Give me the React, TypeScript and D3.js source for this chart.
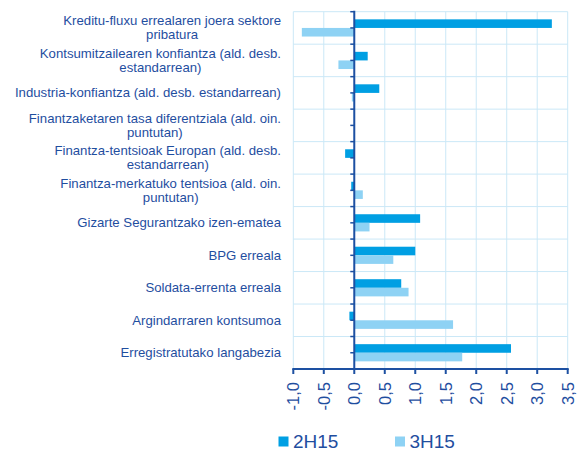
import React, { useEffect, useRef } from "react";
import * as d3 from "d3";

const categories: string[][] = [
  ["Kreditu-fluxu errealaren joera sektore", "pribatura"],
  ["Kontsumitzailearen konfiantza (ald. desb.", "estandarrean)"],
  ["Industria-konfiantza (ald. desb. estandarrean)"],
  ["Finantzaketaren tasa diferentziala (ald. oin.", "puntutan)"],
  ["Finantza-tentsioak Europan (ald. desb.", "estandarrean)"],
  ["Finantza-merkatuko tentsioa (ald. oin.", "puntutan)"],
  ["Gizarte Segurantzako izen-ematea"],
  ["BPG erreala"],
  ["Soldata-errenta erreala"],
  ["Argindarraren kontsumoa"],
  ["Erregistratutako langabezia"],
];

const seriesNames = ["2H15", "3H15"];
const values2H15 = [3.24, 0.22, 0.41, 0.0, -0.15, -0.05, 1.08, 1.0, 0.77, -0.08, 2.57];
const values3H15 = [-0.86, -0.26, -0.04, 0.0, 0.0, 0.14, 0.25, 0.64, 0.89, 1.62, 1.77];
const xTicks = [-1.0, -0.5, 0.0, 0.5, 1.0, 1.5, 2.0, 2.5, 3.0, 3.5];

const W = 577;
const H = 450;
const colors = ["#009fe3", "#8ed2f4"];
const textColor = "#1f4e9f";
const axisColor = "#1d50a2";
const gridColor = "#cbe8f7";
const FONT = "'Liberation Sans', Arial, sans-serif";

export default function App() {
  const ref = useRef<SVGSVGElement | null>(null);

  useEffect(() => {
    const svg = d3.select(ref.current);
    svg.selectAll("*").remove();

    const left = 293.3, right = 567.7, top = 11.7, bottom = 369;
    const x = d3.scaleLinear().domain([-1, 3.5]).range([left, right]);
    const idx = categories.map((_, i) => String(i));
    const y = d3.scaleBand().domain(idx).range([top, bottom]).paddingInner(0).paddingOuter(0);
    const ySub = d3.scaleBand().domain(seriesNames).range([0, y.bandwidth()]).paddingInner(0).paddingOuter(0.89);

    // grid
    const g = svg.append("g");
    g.selectAll("line.vg").data(xTicks).enter().append("line")
      .attr("x1", (d) => x(d)).attr("x2", (d) => x(d))
      .attr("y1", top).attr("y2", bottom)
      .attr("stroke", gridColor).attr("stroke-width", 1);
    const bounds = idx.map((d) => y(d) as number);
    g.selectAll("line.hg").data(bounds).enter().append("line")
      .attr("x1", left).attr("x2", right)
      .attr("y1", (d) => d).attr("y2", (d) => d)
      .attr("stroke", gridColor).attr("stroke-width", 1);

    // bars
    const seriesVals = [values2H15, values3H15];
    seriesNames.forEach((s, si) => {
      svg.append("g").selectAll("rect").data(seriesVals[si]).enter().append("rect")
        .attr("x", (d) => x(Math.min(0, d)))
        .attr("width", (d) => Math.abs(x(d) - x(0)))
        .attr("y", (_, i) => (y(String(i)) as number) + (ySub(s) as number))
        .attr("height", ySub.bandwidth())
        .attr("fill", colors[si]);
    });

    // zero axis
    const x0 = x(0);
    svg.append("line").attr("x1", x0).attr("x2", x0).attr("y1", top - 1).attr("y2", bottom)
      .attr("stroke", axisColor).attr("stroke-width", 2);
    const yTicks: number[] = [];
    idx.forEach((d) => {
      yTicks.push(y(d) as number);
      yTicks.push((y(d) as number) + y.bandwidth() / 2);
    });
    svg.append("g").selectAll("line").data(yTicks).enter().append("line")
      .attr("x1", x0 - 4).attr("x2", x0).attr("y1", (d) => d).attr("y2", (d) => d)
      .attr("stroke", axisColor).attr("stroke-width", 1.5);

    // bottom axis
    svg.append("line").attr("x1", left - 1).attr("x2", right + 1).attr("y1", bottom).attr("y2", bottom)
      .attr("stroke", axisColor).attr("stroke-width", 2);
    svg.append("g").selectAll("line").data(xTicks).enter().append("line")
      .attr("x1", (d) => x(d)).attr("x2", (d) => x(d)).attr("y1", bottom).attr("y2", bottom + 5)
      .attr("stroke", axisColor).attr("stroke-width", 2);
    const fmt = (d: number) => d.toFixed(1).replace(".", ",");
    svg.append("g").selectAll("text").data(xTicks).enter().append("text")
      .attr("transform", (d) => `translate(${x(d)},${382}) rotate(-90)`)
      .attr("text-anchor", "end")
      .attr("dominant-baseline", "central")
      .attr("font-family", FONT).attr("font-size", 16.5).attr("fill", textColor)
      .text((d) => fmt(d));

    // category labels
    const labelRight = 281;
    const lineH = 14;
    categories.forEach((lines, i) => {
      const cy = (y(String(i)) as number) + y.bandwidth() / 2;
      const t = svg.append("text").attr("font-family", FONT).attr("font-size", 13.2).attr("fill", textColor);
      const spans = lines.map((ln, li) =>
        t.append("tspan").attr("x", 0).attr("y", cy + (li - (lines.length - 1) / 2) * lineH)
          .attr("dominant-baseline", "central").text(ln)
      );
      const widths = spans.map((sp) => (sp.node() as SVGTSpanElement).getComputedTextLength());
      const maxW = Math.max(...widths);
      const cx = labelRight - maxW / 2;
      spans.forEach((sp) => sp.attr("x", cx).attr("text-anchor", "middle"));
    });

    // legend
    const legendX = [278.5, 395];
    seriesNames.forEach((s, si) => {
      svg.append("rect").attr("x", legendX[si]).attr("y", 436.5).attr("width", 10).attr("height", 10)
        .attr("fill", colors[si]);
      svg.append("text").attr("x", legendX[si] + 14.5).attr("y", 447.5)
        .attr("font-family", FONT).attr("font-size", 19).attr("fill", textColor).text(s);
    });
  }, []);

  return (
    <svg ref={ref} width={W} height={H} style={{ position: "absolute", left: 0, top: 0, background: "#fff" }} />
  );
}
